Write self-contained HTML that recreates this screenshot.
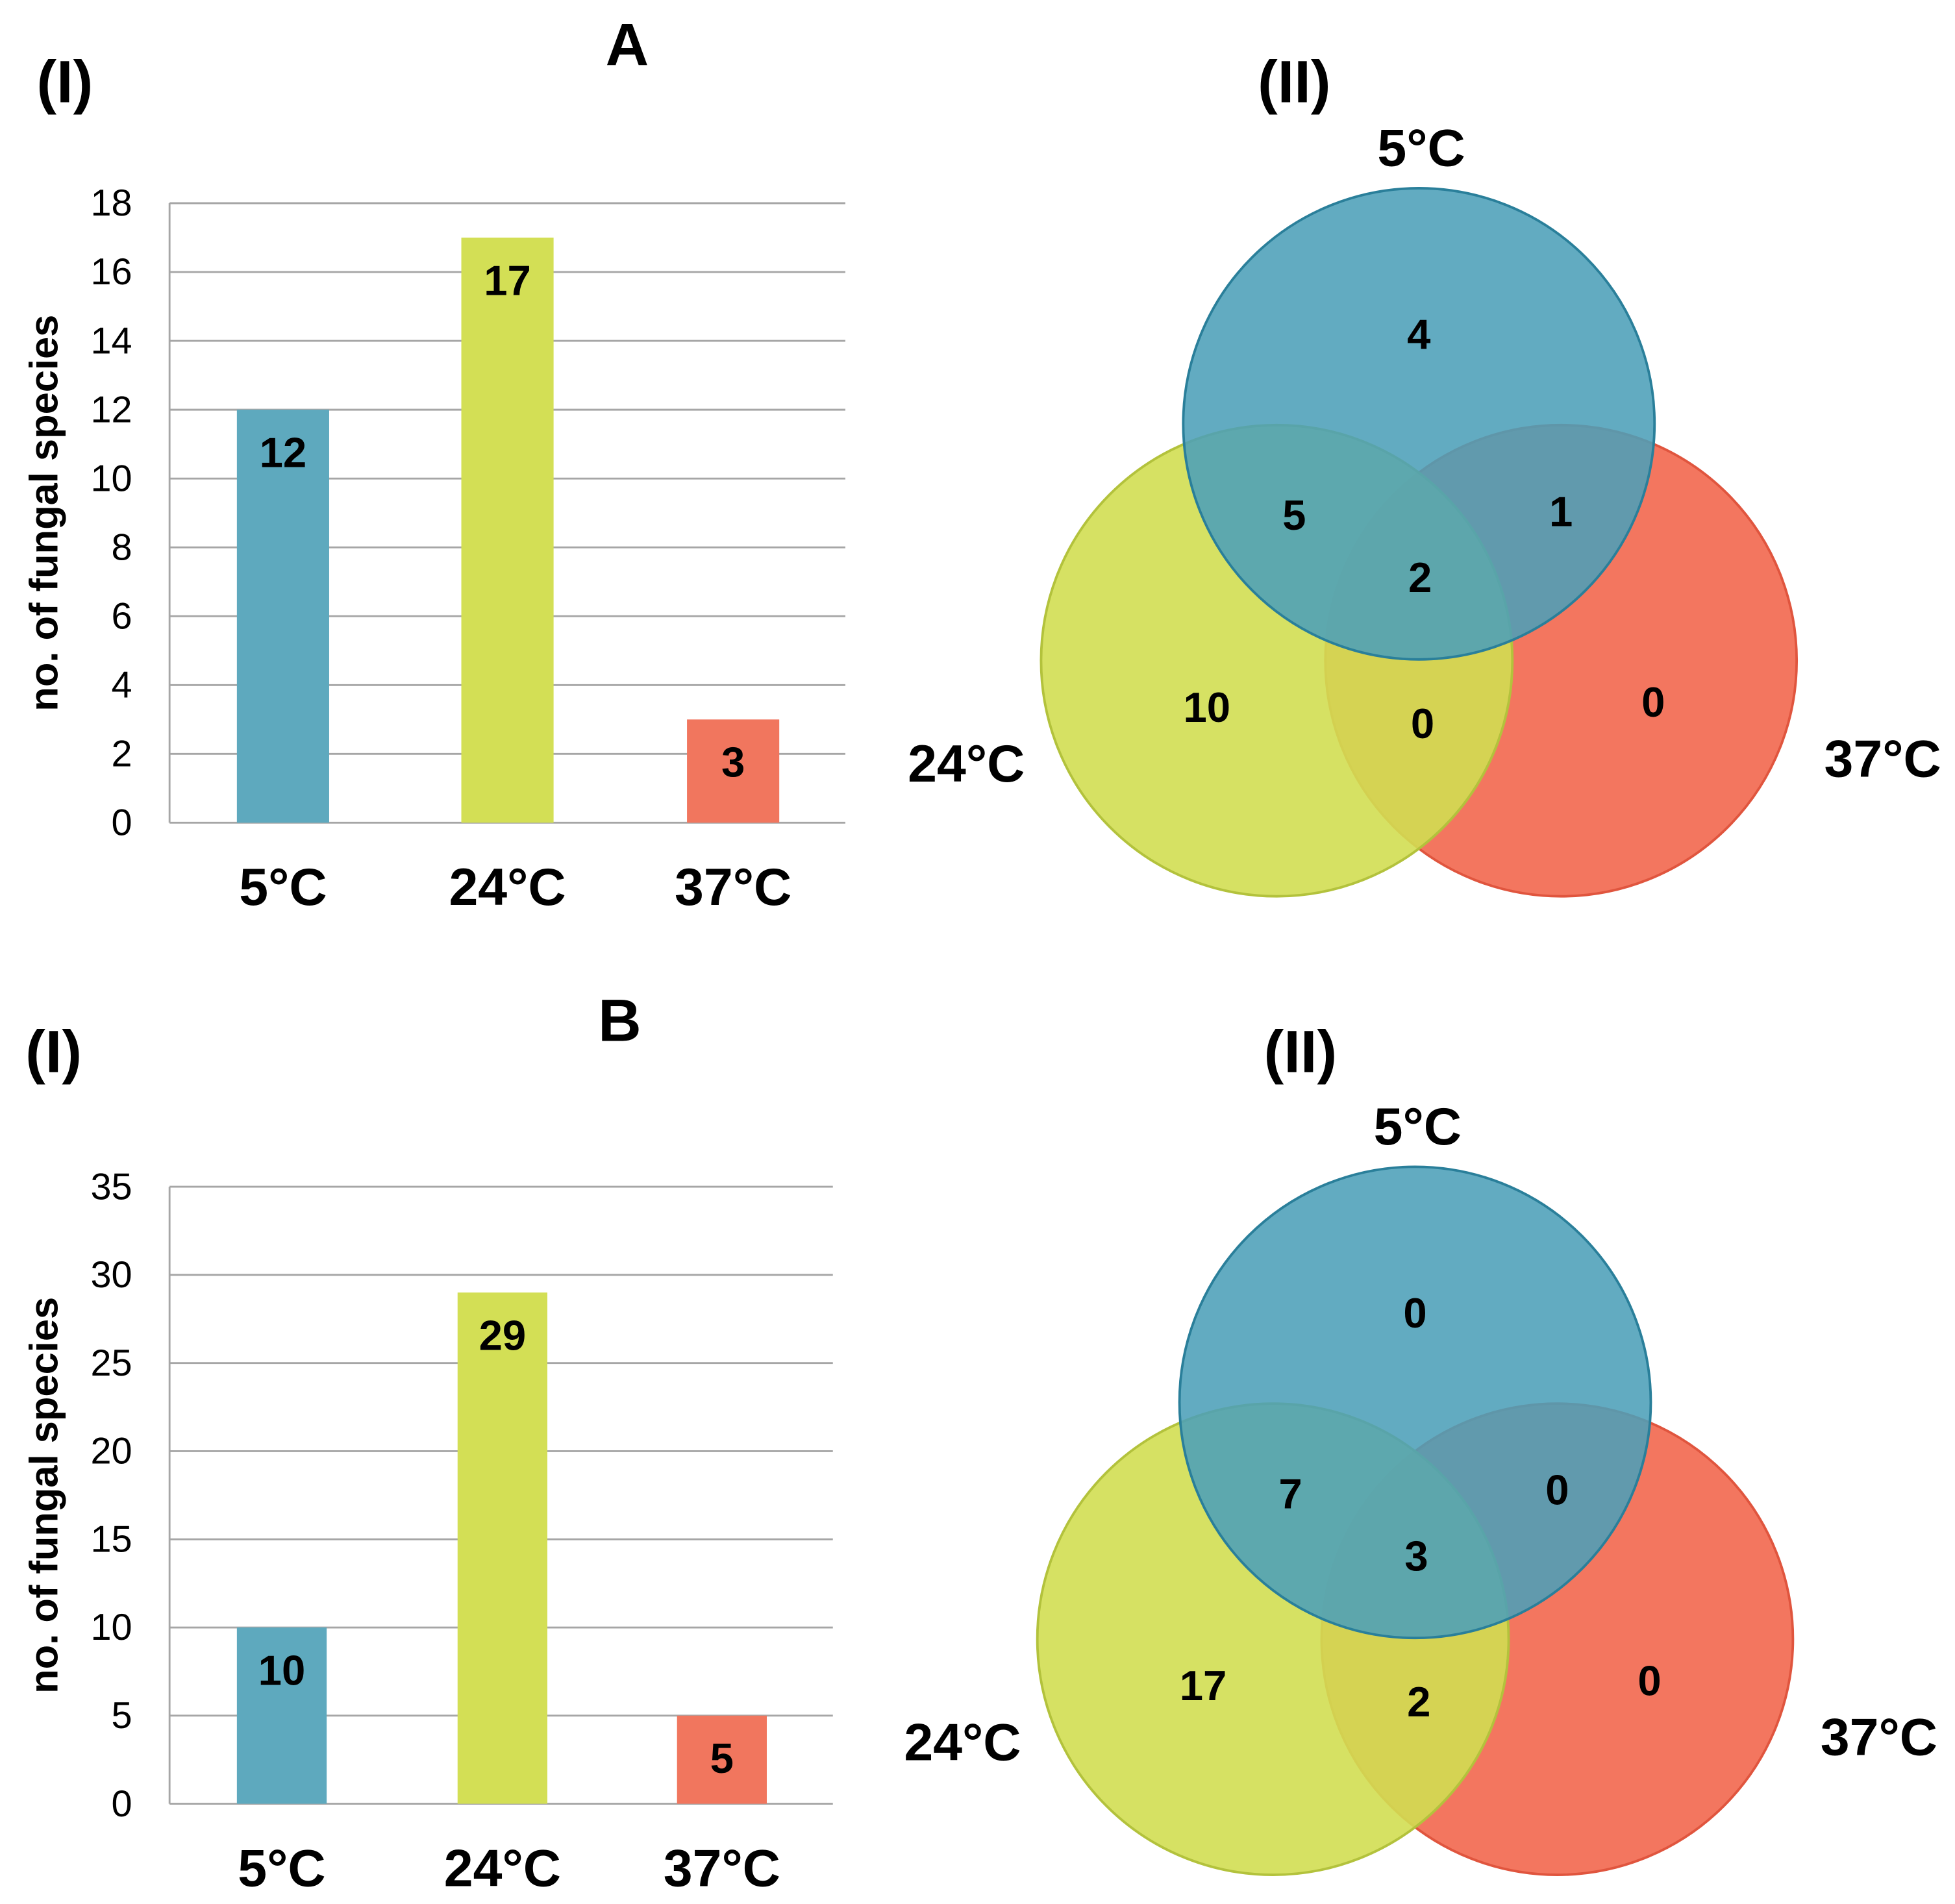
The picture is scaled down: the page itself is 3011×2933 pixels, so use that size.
<!DOCTYPE html>
<html><head><meta charset="utf-8"><style>
html,body{margin:0;padding:0;background:#fff}
svg{display:block;font-family:"Liberation Sans",Arial,sans-serif}
</style></head><body>
<svg id="fig" width="3011" height="2933" viewBox="0 0 1568 1527.4" preserveAspectRatio="none" xmlns="http://www.w3.org/2000/svg">
<text x="52" y="82" font-size="48" font-weight="bold" text-anchor="middle">(I)</text>
<text x="503" y="52" font-size="48" font-weight="bold" text-anchor="middle">A</text>
<text x="1038" y="82" font-size="48" font-weight="bold" text-anchor="middle">(II)</text>
<text x="43" y="860" font-size="48" font-weight="bold" text-anchor="middle">(I)</text>
<text x="497" y="835" font-size="48" font-weight="bold" text-anchor="middle">B</text>
<text x="1043" y="860" font-size="48" font-weight="bold" text-anchor="middle">(II)</text>
<g id="chartA"></g><g id="chartB"></g><g id="vennA"></g><g id="vennB"></g>
</svg>
<script>
const categories = ["5\u00B0C", "24\u00B0C", "37\u00B0C"];
const valuesA = [12, 17, 3];
const valuesB = [10, 29, 5];
const ticksA = [0, 2, 4, 6, 8, 10, 12, 14, 16, 18];
const ticksB = [0, 5, 10, 15, 20, 25, 30, 35];
const vennRegionsA = [4, 5, 1, 2, 10, 0, 0]; // 5only, 5&24, 5&37, all, 24only, 24&37, 37only
const vennRegionsB = [0, 7, 0, 3, 17, 2, 0];
const barColors = ["#5ea9be", "#d3df55", "#f1765e"];
const NS = "http://www.w3.org/2000/svg";
function mk(parent, tag, attrs, text) {
  const e = document.createElementNS(NS, tag);
  for (const k in attrs) e.setAttribute(k, attrs[k]);
  if (text !== undefined) e.textContent = text;
  parent.appendChild(e);
  return e;
}
function barChart(gid, vals, ticks, x0, x1, yTop, yBot, barX, barW, prefix) {
  const g = document.getElementById(gid);
  const max = ticks[ticks.length - 1];
  const y = v => yBot - (v / max) * (yBot - yTop);
  ticks.forEach(t => {
    const l = mk(g, "line", {x1: x0, x2: x1, y1: y(t), y2: y(t), stroke: "#a6a6a6", "stroke-width": 1.5});
    
    
    const tx = mk(g, "text", {x: x0 - 30, y: y(t) + 10, "font-size": 30, "text-anchor": "end"}, t);
    
    
  });
  const ax = mk(g, "line", {x1: x0, x2: x0, y1: yTop, y2: yBot, stroke: "#a6a6a6", "stroke-width": 1.5});
  
  
  vals.forEach((v, i) => {
    const r = mk(g, "rect", {x: barX[i], y: y(v), width: barW, height: yBot - y(v), fill: barColors[i]});
    
    
    const vl = mk(g, "text", {x: barX[i] + barW / 2, y: y(v) + 46, "font-size": 34, "font-weight": "bold", "text-anchor": "middle"}, v);
    
    
    const cl = mk(g, "text", {x: barX[i] + barW / 2, y: yBot + 66, "font-size": 42, "font-weight": "bold", "text-anchor": "middle"}, categories[i]);
    
    
  });
  const cy = (yTop + yBot) / 2;
  const yt = mk(g, "text", {x: 0, y: 0, "font-size": 32, "font-weight": "bold", "text-anchor": "middle", transform: "translate(46," + cy + ") rotate(-90)"}, "no. of fungal species");
  
  
}
barChart("chartA", valuesA, ticksA, 136, 678, 163, 660, [190, 370, 551], 74, "a");
barChart("chartB", valuesB, ticksB, 136, 668, 952, 1447, [190, 367, 543], 72, "b");
function venn(gid, regions, cx, cy, prefix) {
  const g = document.getElementById(gid);
  const r = 189, dx = 114, dy = 190;
  const red = mk(g, "circle", {cx: cx + dx, cy: cy + dy, r: r, fill: "#f3765f", stroke: "#e0553e", "stroke-width": 2});
  
  
  const yel = mk(g, "circle", {cx: cx - dx, cy: cy + dy, r: r, fill: "#d2de52", "fill-opacity": 0.9, stroke: "#b3c23c", "stroke-width": 2});
  
  
  const blu = mk(g, "circle", {cx: cx, cy: cy, r: r, fill: "#4c9fb8", "fill-opacity": 0.88, stroke: "#2a7f9a", "stroke-width": 2});
  
  
  const pos = [[0, -72], [-100, 73], [114, 70], [1, 123], [-170, 227], [3, 240], [188, 223]];
  regions.forEach((v, i) => {
    const t = mk(g, "text", {x: cx + pos[i][0], y: cy + pos[i][1] + 12, "font-size": 34, "font-weight": "bold", "text-anchor": "middle"}, v);
    
    
  });
  const l1 = mk(g, "text", {x: cx + 2, y: cy - 207, "font-size": 42, "font-weight": "bold", "text-anchor": "middle"}, categories[0]);
  
  
  const l2 = mk(g, "text", {x: cx - 363, y: cy + 287, "font-size": 42, "font-weight": "bold", "text-anchor": "middle"}, categories[1]);
  
  
  const l3 = mk(g, "text", {x: cx + 372, y: cy + 283, "font-size": 42, "font-weight": "bold", "text-anchor": "middle"}, categories[2]);
  
  
}
venn("vennA", vennRegionsA, 1138, 340, "venn-a");
venn("vennB", vennRegionsB, 1135, 1125, "venn-b");
</script>
</body></html>
